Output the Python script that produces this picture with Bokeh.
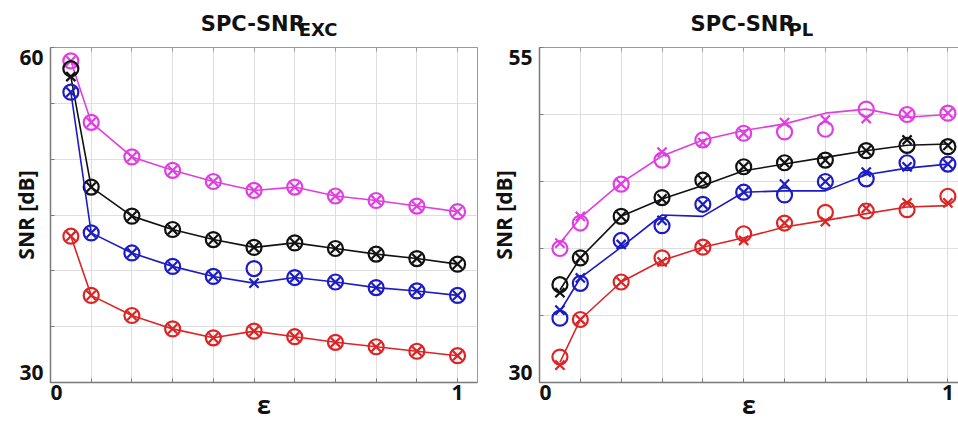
import numpy as np
from bokeh.plotting import figure
from bokeh.layouts import row, column
from bokeh.models import FixedTicker, Range1d, LinearAxis
from bokeh.core.properties import value
from bokeh.embed import file_html
from bokeh.resources import INLINE

# ---------------- data ----------------
eps = [0.05, 0.1, 0.2, 0.3, 0.4, 0.5, 0.6, 0.7, 0.8, 0.9, 1.0]

# Left panel: SPC-SNR_EXC  (circles "o", crosses "x"; line drawn through crosses)
exc_magenta_o = [58.8, 53.3, 50.2, 49.0, 48.0, 47.2, 47.5, 46.7, 46.3, 45.8, 45.3]
exc_magenta_x = [58.8, 53.3, 50.2, 49.0, 48.0, 47.2, 47.5, 46.7, 46.3, 45.8, 45.3]
exc_black_o = [58.1, 47.5, 44.9, 43.7, 42.8, 42.1, 42.5, 42.0, 41.5, 41.1, 40.6]
exc_black_x = [57.4, 47.5, 44.9, 43.7, 42.8, 42.1, 42.5, 42.0, 41.5, 41.1, 40.6]
exc_blue_o = [56.0, 43.4, 41.6, 40.4, 39.5, 40.2, 39.4, 39.0, 38.5, 38.2, 37.8]
exc_blue_x = [56.0, 43.4, 41.6, 40.4, 39.5, 38.9, 39.4, 39.0, 38.5, 38.2, 37.8]
exc_red_o = [43.1, 37.8, 36.0, 34.8, 34.0, 34.6, 34.1, 33.6, 33.2, 32.8, 32.4]
exc_red_x = [43.1, 37.8, 36.0, 34.8, 34.0, 34.6, 34.1, 33.6, 33.2, 32.8, 32.4]

# Right panel: SPC-SNR_PL  (circles, crosses and connecting line)
pl_magenta_o = [40.0, 41.9, 44.8, 46.6, 48.1, 48.6, 48.7, 48.9, 50.4, 50.0, 50.1]
pl_magenta_x = [40.4, 42.4, 44.8, 47.2, 47.9, 48.6, 49.4, 49.6, 49.7, 50.0, 50.1]
pl_magenta_l = [40.4, 42.3, 44.9, 46.9, 48.1, 48.8, 49.3, 50.1, 50.4, 49.8, 50.0]
pl_black_o = [37.3, 39.3, 42.4, 43.8, 45.1, 46.1, 46.4, 46.6, 47.3, 47.7, 47.6]
pl_black_x = [36.7, 39.3, 42.4, 43.7, 45.1, 46.1, 46.4, 46.6, 47.3, 48.1, 47.7]
pl_black_l = [36.9, 39.3, 42.4, 43.7, 44.7, 45.8, 46.3, 46.8, 47.3, 47.7, 47.8]
pl_blue_o = [34.8, 37.4, 40.6, 41.7, 43.3, 44.2, 44.0, 45.0, 45.2, 46.4, 46.3]
pl_blue_x = [35.4, 37.8, 40.3, 42.1, 43.3, 44.2, 44.8, 45.0, 45.7, 46.1, 46.3]
pl_blue_l = [35.3, 37.8, 40.1, 42.5, 42.4, 44.2, 44.3, 44.3, 45.5, 46.0, 46.3]
pl_red_o = [31.9, 34.7, 37.5, 39.3, 40.1, 41.1, 41.9, 42.7, 42.8, 42.9, 43.9]
pl_red_x = [31.3, 34.7, 37.5, 39.0, 40.1, 40.6, 41.9, 42.0, 43.0, 43.4, 43.4]
pl_red_l = [31.5, 34.7, 37.5, 39.1, 40.1, 40.8, 41.6, 42.1, 42.6, 43.1, 43.2]

x_tick_values = [0, 1]
x_tick_labels = ["0", "1"]
exc_y_ticks = [30, 60]
exc_y_labels = ["30", "60"]
pl_y_ticks = [30, 55]
pl_y_labels = ["30", "55"]
grid_x = [0.0, 0.1, 0.2, 0.3, 0.4, 0.5, 0.6, 0.7, 0.8, 0.9, 1.0]

COLORS = {"magenta": "#e03ee0", "black": "#111111", "blue": "#1c1cc4", "red": "#dc2424"}
FONT = "Open Sans"
TITLE_FONT = "DejaVu Sans"

TITLE_H = 42
MAIN_H = 381
BORDER_TOP = 5
BORDER_BOTTOM = 40
FRAME_H = MAIN_H - BORDER_TOP - BORDER_BOTTOM


def make_title(main, sub, x_end, width, border_left, border_right):
    # the title strip's frame is aligned with the panel's frame by the column layout
    px_per_x = (width - border_left - border_right) / x_end
    t = figure(width=width, height=TITLE_H, x_range=Range1d(0, x_end),
               y_range=Range1d(TITLE_H, 0), x_axis_type=None, y_axis_type=None,
               output_backend="svg", toolbar_location=None, title=None,
               min_border_left=border_left, min_border_right=border_right,
               min_border_top=0, min_border_bottom=0, outline_line_color=None)
    join = 0.61           # where main text ends and subscript begins
    main_w = 98           # approximate rendered width (px) of the main text
    t.text(x=[join - main_w / px_per_x], y=[23], text=[main], text_align="left",
           text_baseline="middle", text_font=value(TITLE_FONT), text_font_style="bold",
           text_font_size="21px", text_color="#111111")
    t.text(x=[join], y=[28.5], text=[sub], text_align="left",
           text_baseline="middle", text_font=value(TITLE_FONT), text_font_style="bold",
           text_font_size="18px", text_color="#111111")
    return t


def make_panel(y_lo, y_hi, y_ticks, y_labels, x_end, width,
               border_left, border_right, snr_standoff, series, outline):
    p = figure(width=width, height=MAIN_H, x_range=Range1d(0, x_end),
               y_range=Range1d(y_lo, y_hi), output_backend="svg",
               toolbar_location=None, title=None,
               min_border_left=border_left, min_border_right=border_right,
               min_border_top=BORDER_TOP, min_border_bottom=BORDER_BOTTOM)
    p.background_fill_color = "white"
    p.border_fill_color = "white"
    if outline:
        p.outline_line_color = "#9a9a9a"
        p.outline_line_width = 1
    else:
        p.outline_line_color = None

    grid_y = list(range(y_lo, y_hi + 1, 5))
    p.xgrid.ticker = FixedTicker(ticks=grid_x)
    p.ygrid.ticker = FixedTicker(ticks=grid_y)
    p.xgrid.grid_line_color = "#dedede"
    p.ygrid.grid_line_color = "#dedede"

    # label insets (pixels) to mimic the original label placement
    px_per_x = (width - border_left - border_right) / x_end
    x_pos = [x_tick_values[0] + 6 / px_per_x, x_tick_values[1]]
    y_inset = 10 * (y_hi - y_lo) / FRAME_H
    y_pos = [y_ticks[0] + y_inset, y_ticks[1] - y_inset]

    xa = p.xaxis[0]
    xa.ticker = FixedTicker(ticks=x_pos, minor_ticks=grid_x)
    xa.major_label_overrides = {x_pos[i]: x_tick_labels[i] for i in range(2)}
    ya = p.yaxis[0]
    ya.ticker = FixedTicker(ticks=y_pos, minor_ticks=grid_y)
    ya.major_label_overrides = {y_pos[i]: y_labels[i] for i in range(2)}

    for ax, standoff in ((xa, 2), (ya, 7)):
        ax.axis_line_color = "#7a7a7a"
        ax.axis_line_width = 1.5
        ax.major_tick_in = 0
        ax.major_tick_out = 0
        ax.minor_tick_in = 4
        ax.minor_tick_out = 0
        ax.minor_tick_line_color = "#7a7a7a"
        ax.major_label_text_font = FONT
        ax.major_label_text_font_style = "bold"
        ax.major_label_text_font_size = "21px"
        ax.major_label_text_color = "#111111"
        ax.major_label_standoff = standoff
        ax.axis_label_text_font = FONT
        ax.axis_label_text_font_style = "bold"
        ax.axis_label_text_color = "#111111"

    xa.axis_label = "ε"
    xa.axis_label_text_font_size = "25px"
    xa.axis_label_standoff = -16
    ya.axis_label = "SNR [dB]"
    ya.axis_label_text_font_size = "21px"
    ya.axis_label_standoff = snr_standoff

    top = LinearAxis(ticker=FixedTicker(ticks=[], minor_ticks=grid_x),
                     axis_line_color="#9a9a9a", axis_line_width=1,
                     major_tick_in=0, major_tick_out=0,
                     minor_tick_in=4, minor_tick_out=0,
                     minor_tick_line_color="#9a9a9a",
                     major_label_standoff=0,
                     major_label_text_font_size="0px")
    p.add_layout(top, "above")

    for name, (o_vals, x_vals, l_vals) in series.items():
        c = COLORS[name]
        p.line(eps, l_vals, line_color=c, line_width=1.6)
        p.scatter(eps, o_vals, marker="circle", size=15, fill_color=None,
                  line_color=c, line_width=2.2)
        p.scatter(eps, x_vals, marker="x", size=13, line_color=c, line_width=2.2)
    return p


L_W, L_BL, L_BR, L_XEND = 485, 50, 8, 1.049
R_W, R_BL, R_BR, R_XEND = 473, 54, 0, 1.026

left = make_panel(30, 60, exc_y_ticks, exc_y_labels, L_XEND, L_W, L_BL, L_BR, -24,
                  {"magenta": (exc_magenta_o, exc_magenta_x, exc_magenta_x),
                   "black": (exc_black_o, exc_black_x, exc_black_x),
                   "blue": (exc_blue_o, exc_blue_x, exc_blue_x),
                   "red": (exc_red_o, exc_red_x, exc_red_x)}, True)

right = make_panel(30, 55, pl_y_ticks, pl_y_labels, R_XEND, R_W, R_BL, R_BR, -13,
                   {"magenta": (pl_magenta_o, pl_magenta_x, pl_magenta_l),
                    "black": (pl_black_o, pl_black_x, pl_black_l),
                    "blue": (pl_blue_o, pl_blue_x, pl_blue_l),
                    "red": (pl_red_o, pl_red_x, pl_red_l)}, False)

title_left = make_title("SPC-SNR", "EXC", L_XEND, L_W, L_BL, L_BR)
title_right = make_title("SPC-SNR", "PL", R_XEND, R_W, R_BL, R_BR)

layout = row(column(title_left, left, spacing=0), column(title_right, right, spacing=0),
             spacing=0)
open("out.html", "w").write(file_html(layout, INLINE))
